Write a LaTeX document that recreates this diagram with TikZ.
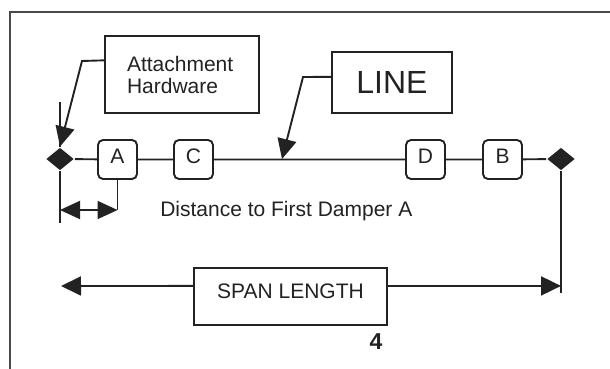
\documentclass[tikz,border=0pt]{standalone}
\usepackage{fontspec}
\setmainfont{Liberation Sans}
\usetikzlibrary{arrows.meta,positioning,shapes.geometric,calc}
\definecolor{ink}{HTML}{222222}
\definecolor{rim}{HTML}{4A4A4A}

\begin{document}
\begin{tikzpicture}[
  x=1pt, y=-1pt,
  color=ink, line width=1.9pt,
  box/.style={draw, rectangle, line width=1.7pt, inner sep=0pt,
              align=left, text=ink},
  damper/.style={draw, rounded corners=5pt, minimum width=39pt,
                 minimum height=39pt, inner sep=0pt, text=ink,
                 text height=14pt, text depth=7pt,
                 font=\fontsize{21}{22}\selectfont},
  clamp/.style={diamond, fill=ink, draw=none, minimum width=28pt,
                minimum height=23pt, inner sep=0pt},
  lbl/.style={font=\fontsize{21}{22}\selectfont, text=ink},
  arr/.style={-{Triangle[length=20pt,width=19pt]}},
  darr/.style={{Triangle[length=20pt,width=18pt]}-{Triangle[length=20pt,width=18pt]}},
  frame/.style={draw=rim, line width=1.6pt},
]
\useasboundingbox (0,0) rectangle (610,369);

%% page frame
\coordinate (ftr) at (610,12);
\coordinate (ftl) at (10,12);
\coordinate (fbl) at (10,369);
\draw[frame] (ftr) -- (ftl) -- (fbl);

%% conductor with clamps and dampers
\node[clamp]  (lclamp) at (60,159)    {};
\node[damper] (A)      at (117.5,159.5) {A};
\node[damper] (C)      at (193.5,159.5) {C};
\node[damper] (D)      at (425.5,159.5) {D};
\node[damper] (B)      at (502.5,159.5) {B};
\node[clamp]  (rclamp) at (561,159)   {};
\draw (lclamp) -- (A) -- (C) -- (D) -- (B) -- (rclamp);

%% callouts
\node[box, lbl, minimum width=154pt, minimum height=77pt, text width=110pt]
  (hw) at (182,74.5) {Attachment\\Hardware};
\node[box, minimum width=120pt, minimum height=61pt,
      font=\fontsize{32}{34}\selectfont] (line) at (392,82.5) {LINE};

\coordinate (hwstart) at ($(hw.north west)!0.32!(hw.south west)$);
\coordinate (hwbend)  at (82,61);
\coordinate (post)    at (60,102);
\draw[arr] (hwstart) -- (hwbend) -- (lclamp.north);
\draw (post) -- (lclamp.north);

\coordinate (lnstart) at ($(line.north west)!0.41!(line.south west)$);
\coordinate (lnbend)  at (303,77);
\coordinate (lntip)   at (282,159);
\draw[arr] (lnstart) -- (lnbend) -- (lntip);

%% distance to first damper
\coordinate (dfoot) at (60,223);
\coordinate (dend)  at (117.5,210);
\draw (lclamp.south) -- (dfoot);
\draw (A.south) -- (dend);
\draw[darr] (lclamp.south |- dend) -- (dend);
\node[lbl, anchor=west] (dist) at (156,211) {Distance to First Damper A};

%% span length
\node[box, lbl, minimum width=193pt, minimum height=57pt,
      text height=15pt, text depth=12pt] (span) at (290.5,296.5) {SPAN LENGTH};
\coordinate (rfoot) at (561,293);
\coordinate (sleft)  at ($(span.north west)!0.32!(span.south west)$);
\coordinate (sright) at ($(span.north east)!0.32!(span.south east)$);
\coordinate (send)   at (61,286);
\draw (rclamp.south) -- (rfoot);
\draw[arr] (sleft) -- (send);
\draw[arr] (sright) -- (rclamp.south |- sright);

\node[font=\fontsize{23}{24}\selectfont\bfseries, text=ink] (pg) at (376,342) {4};
\end{tikzpicture}
\end{document}
